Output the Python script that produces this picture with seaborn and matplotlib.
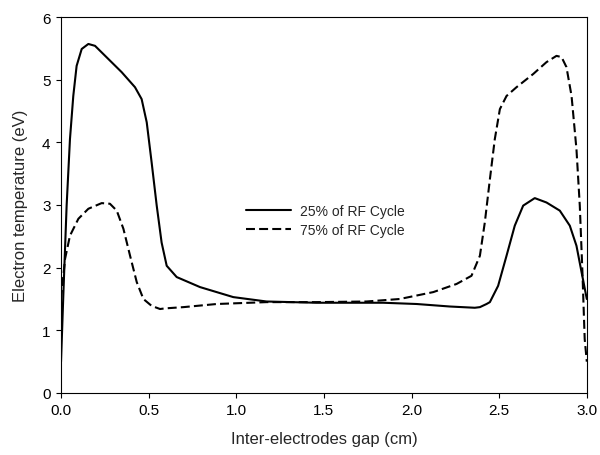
import matplotlib
matplotlib.use("Agg")
import matplotlib.pyplot as plt
import seaborn as sns
import pandas as pd

# Electron temperature across the gap at two phases of the RF cycle
gap_25 = [0.0, 0.013, 0.032, 0.051, 0.070, 0.089, 0.118, 0.156, 0.194, 0.27,
          0.346, 0.422, 0.46, 0.489, 0.517, 0.546, 0.574, 0.603, 0.66, 0.793,
          0.983, 1.173, 1.458, 1.838, 2.029, 2.219, 2.361, 2.39, 2.428, 2.447,
          2.494, 2.542, 2.589, 2.637, 2.703, 2.77, 2.846, 2.903, 2.941, 2.97, 3.0]
te_25 = [0.5, 1.55, 2.99, 4.05, 4.74, 5.22, 5.49, 5.57, 5.54, 5.33,
         5.12, 4.88, 4.69, 4.32, 3.68, 2.99, 2.40, 2.03, 1.85, 1.69,
         1.53, 1.46, 1.44, 1.44, 1.42, 1.38, 1.36, 1.37, 1.42, 1.45,
         1.71, 2.19, 2.67, 2.99, 3.11, 3.04, 2.91, 2.67, 2.35, 1.93, 1.50]

gap_75 = [0.0, 0.023, 0.051, 0.099, 0.156, 0.232, 0.279, 0.318, 0.356, 0.394,
          0.432, 0.47, 0.517, 0.565, 0.593, 0.698, 0.888, 1.173, 1.458, 1.743,
          1.933, 2.124, 2.257, 2.342, 2.39, 2.418, 2.447, 2.475, 2.504, 2.542,
          2.599, 2.694, 2.77, 2.827, 2.856, 2.884, 2.913, 2.941, 2.96, 2.975,
          2.988, 3.0]
te_75 = [1.5, 2.14, 2.51, 2.78, 2.94, 3.03, 3.02, 2.91, 2.62, 2.19,
         1.77, 1.50, 1.39, 1.34, 1.35, 1.37, 1.42, 1.45, 1.45, 1.46,
         1.50, 1.61, 1.74, 1.87, 2.19, 2.72, 3.41, 4.05, 4.53, 4.74,
         4.88, 5.09, 5.28, 5.38, 5.36, 5.20, 4.74, 3.89, 2.99, 1.93,
         0.86, 0.5]

labels = ["25% of RF Cycle", "75% of RF Cycle"]
x_ticks = [0.0, 0.5, 1.0, 1.5, 2.0, 2.5, 3.0]
y_ticks = [0, 1, 2, 3, 4, 5, 6]

sns.set_style("ticks")
plt.rcParams["font.family"] = ["Liberation Sans", "DejaVu Sans"]

fig, ax = plt.subplots(figsize=(6, 4.56), dpi=100)
fig.subplots_adjust(left=0.1017, right=0.978, top=0.9605, bottom=0.136)

df25 = pd.DataFrame({"gap": gap_25, "te": te_25})
df75 = pd.DataFrame({"gap": gap_75, "te": te_75})

sns.lineplot(data=df25, x="gap", y="te", ax=ax, color="black", lw=1.5,
             sort=False, label=labels[0])
sns.lineplot(data=df75, x="gap", y="te", ax=ax, color="black", lw=1.5,
             sort=False, label=labels[1], linestyle=(0, (4.3, 2.0)))

ax.set_xlim(0, 3)
ax.set_ylim(0, 6)
ax.set_xticks(x_ticks)
ax.set_xticklabels([f"{t:.1f}" for t in x_ticks])
ax.set_yticks(y_ticks)
ax.set_yticklabels([str(t) for t in y_ticks])

for s in ax.spines.values():
    s.set_visible(True)
    s.set_linewidth(0.8)
    s.set_color("black")
ax.tick_params(axis="both", direction="out", length=3.5, width=0.8,
               labelsize=11, colors="black", pad=4)
ax.tick_params(top=False, right=False)

ax.set_xlabel("Inter-electrodes gap (cm)", fontsize=12, labelpad=10)
ax.set_ylabel("Electron temperature (eV)", fontsize=12, labelpad=10)

ax.legend(loc="center left", bbox_to_anchor=(0.352, 0.459), frameon=False,
          fontsize=10, handlelength=3.2, handletextpad=0.7, borderpad=0,
          borderaxespad=0, labelspacing=0.35)

fig.savefig("out.png", dpi=100)
